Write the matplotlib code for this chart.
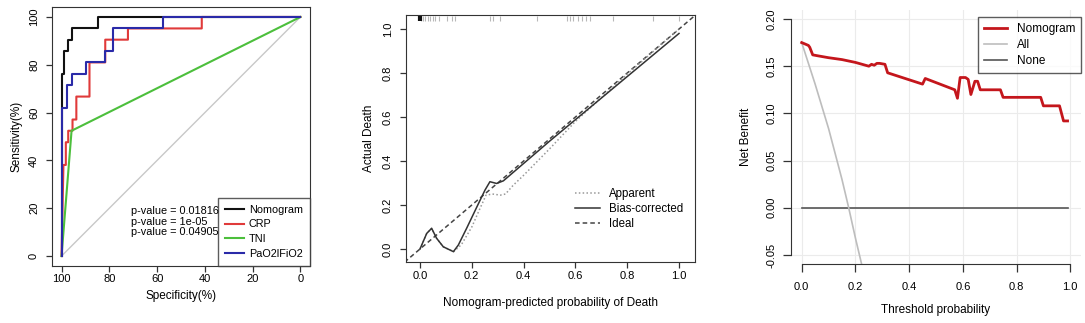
import numpy as np
import matplotlib.pyplot as plt
from matplotlib.lines import Line2D

plt.rcParams['font.family'] = ['Liberation Sans', 'DejaVu Sans']
plt.rcParams['font.size'] = 8

# ---- ROC data (specificity %, sensitivity %) ----
nomo_spec = [100, 100, 98.9, 98.9, 97.2, 97.2, 95.5, 95.5, 84.7, 84.7, 0]
nomo_sens = [0, 76.2, 76.2, 85.7, 85.7, 90.5, 90.5, 95.2, 95.2, 100, 100]
crp_spec = [100, 99.2, 98.2, 98.2, 97.2, 97.2, 95.4, 95.4, 93.8, 93.8, 88.3, 88.3,
            81.7, 81.7, 72.2, 72.2, 41.3, 41.3, 0]
crp_sens = [0, 38.1, 38.1, 47.6, 47.6, 52.4, 52.4, 57.1, 57.1, 66.7, 66.7, 81.0,
            81.0, 90.5, 90.5, 95.2, 95.2, 100, 100]
tni_spec = [100, 95.8, 0]
tni_sens = [0, 52.4, 100]
pao2_spec = [100, 100, 97.6, 97.6, 95.5, 95.5, 89.8, 89.8, 81.6, 81.6, 78.6, 78.6,
             57.6, 57.6, 0]
pao2_sens = [0, 61.9, 61.9, 71.4, 71.4, 76.2, 76.2, 81.0, 81.0, 85.7, 85.7, 95.2,
             95.2, 100, 100]
roc_labels = ['Nomogram', 'CRP', 'TNI', 'PaO2lFiO2']
p_values = ['p-value = 0.01816', 'p-value = 1e-05', 'p-value = 0.04905']

# ---- calibration data ----
bias_x = [0.0, 0.026, 0.045, 0.064, 0.09, 0.129, 0.148, 0.18, 0.219, 0.251, 0.27,
          0.296, 0.322, 0.5, 0.75, 1.0]
bias_y = [0.0, 0.071, 0.094, 0.049, 0.01, -0.012, 0.018, 0.094, 0.19, 0.268, 0.306,
          0.298, 0.31, 0.49, 0.735, 0.98]
app_x = [0.0, 0.026, 0.045, 0.064, 0.09, 0.13, 0.16, 0.2, 0.23, 0.255, 0.28, 0.31,
         0.33, 0.36, 0.4, 0.5, 0.6, 0.8, 1.0]
app_y = [0.0, 0.071, 0.094, 0.049, 0.01, -0.012, 0.02, 0.1, 0.18, 0.245, 0.25, 0.245,
         0.25, 0.29, 0.335, 0.455, 0.58, 0.795, 1.0]
ideal_x = [-0.06, 1.07]
ideal_y = [-0.06, 1.07]
rug_x = [0.005, 0.01, 0.02, 0.03, 0.04, 0.05, 0.058, 0.075, 0.103, 0.122, 0.135,
         0.27, 0.283, 0.309, 0.45, 0.566, 0.579, 0.592, 0.61, 0.625, 0.64, 0.656,
         0.746, 0.9, 1.0]

# ---- decision curve data ----
thr = [0, 0.025, 0.03, 0.041, 0.06, 0.1, 0.15, 0.2, 0.25, 0.26, 0.27, 0.28, 0.29,
       0.31, 0.32, 0.45, 0.46, 0.57, 0.58, 0.59, 0.61, 0.62, 0.63, 0.645, 0.655,
       0.665, 0.74, 0.75, 0.89, 0.90, 0.96, 0.975, 0.99]
nb_nomo = [0.175, 0.172, 0.170, 0.162, 0.161, 0.159, 0.157, 0.154, 0.150, 0.152,
           0.151, 0.153, 0.153, 0.152, 0.143, 0.131, 0.137, 0.125, 0.116, 0.138,
           0.138, 0.136, 0.120, 0.134, 0.134, 0.125, 0.125, 0.117, 0.117, 0.108,
           0.108, 0.092, 0.092]
all_x = [0, 0.05, 0.1, 0.15, 0.175, 0.2, 0.23]
all_y = [0.175, 0.131, 0.084, 0.030, 0.0, -0.032, -0.068]
none_x = [0, 0.99]
none_y = [0, 0]

fig = plt.figure(figsize=(10.85, 3.23), dpi=100)
frame_col = '#333333'

# ===== panel 1: ROC =====
ax1 = fig.add_axes([0.0479, 0.1777, 0.2378, 0.7994])
ax1.plot([100, 0], [0, 100], color='#c8c8c8', lw=1)
ax1.plot(nomo_spec, nomo_sens, color='#111111', lw=1.5, label=roc_labels[0])
ax1.plot(crp_spec, crp_sens, color='#e03a3a', lw=1.5, label=roc_labels[1])
ax1.plot(tni_spec, tni_sens, color='#4cbf3c', lw=1.5, label=roc_labels[2])
ax1.plot(pao2_spec, pao2_sens, color='#2a2aa8', lw=1.5, label=roc_labels[3])
ax1.set_xlim(104, -4)
ax1.set_ylim(-4, 104)
ax1.set_xticks([100, 80, 60, 40, 20, 0])
ax1.set_yticks([0, 20, 40, 60, 80, 100])
leg1 = ax1.legend(loc='lower right', bbox_to_anchor=(1, 0), borderaxespad=0,
                  fancybox=False, edgecolor=frame_col, fontsize=7.8,
                  handlelength=1.7, borderpad=0.65, labelspacing=0.42,
                  handletextpad=0.5)
leg1.get_frame().set_linewidth(1)
for i, t in enumerate(p_values):
    ax1.text(70.8, 18.9 - 4.5 * i, t, ha='left', va='center', fontsize=7.8,
             zorder=10)
ax1.set_xlabel('Specificity(%)', fontsize=8.5, labelpad=4)
ax1.set_ylabel('Sensitivity(%)', fontsize=8.5, labelpad=5)

# ===== panel 2: calibration =====
ax2 = fig.add_axes([0.3742, 0.1889, 0.2664, 0.7647])
ax2.vlines(rug_x, 1.036, 1.059, color='#b8b8b8', lw=0.8)
ax2.vlines([0.0], 1.036, 1.059, color='#111111', lw=3)
ax2.plot(ideal_x, ideal_y, color='#444444', lw=1.1, ls=(0, (3, 2)))
ax2.plot(app_x, app_y, color='#999999', lw=1.1, ls=(0, (1, 1.5)))
ax2.plot(bias_x, bias_y, color='#333333', lw=1.1)
ax2.set_xlim(-0.054, 1.062)
ax2.set_ylim(-0.059, 1.064)
ax2.set_xticks([0, 0.2, 0.4, 0.6, 0.8, 1.0])
ax2.set_yticks([0, 0.2, 0.4, 0.6, 0.8, 1.0])
ax2.xaxis.set_major_formatter(plt.FormatStrFormatter('%.1f'))
ax2.yaxis.set_major_formatter(plt.FormatStrFormatter('%.1f'))
cal_handles = [Line2D([], [], color='#999999', lw=1.1, ls=(0, (1, 1.5))),
               Line2D([], [], color='#333333', lw=1.1),
               Line2D([], [], color='#444444', lw=1.1, ls=(0, (3, 2)))]
ax2.legend(cal_handles, ['Apparent', 'Bias-corrected', 'Ideal'],
           loc='center left', bbox_to_anchor=(0.55, 0.215), frameon=False,
           fontsize=8.3, handlelength=2.1, labelspacing=0.25, handletextpad=0.8)
ax2.set_xlabel('Nomogram-predicted probability of Death', fontsize=8.5, labelpad=12)
ax2.set_ylabel('Actual Death', fontsize=8.5, labelpad=6)

# ===== panel 3: decision curve =====
ax3 = fig.add_axes([0.729, 0.1814, 0.2673, 0.789])
ax3.grid(color='#ebebeb', lw=0.8)
ax3.set_axisbelow(True)
ax3.plot(none_x, none_y, color='#555555', lw=1.2)
ax3.plot(all_x, all_y, color='#bdbdbd', lw=1.2)
ax3.plot(thr, nb_nomo, color='#c4161c', lw=2)
ax3.set_xlim(-0.04, 1.04)
ax3.set_ylim(-0.06, 0.21)
ax3.set_xticks([0, 0.2, 0.4, 0.6, 0.8, 1.0])
ax3.set_yticks([-0.05, 0, 0.05, 0.10, 0.15, 0.20])
ax3.xaxis.set_major_formatter(plt.FormatStrFormatter('%.1f'))
ax3.yaxis.set_major_formatter(plt.FormatStrFormatter('%.2f'))
ax3.spines['top'].set_visible(False)
ax3.spines['right'].set_visible(False)
ax3.spines['left'].set_bounds(-0.05, 0.2)
ax3.spines['bottom'].set_bounds(0, 1)
for s in ('left', 'bottom'):
    ax3.spines[s].set_color(frame_col)
dca_handles = [Line2D([], [], color='#c4161c', lw=2),
               Line2D([], [], color='#bdbdbd', lw=1.2),
               Line2D([], [], color='#555555', lw=1.2)]
leg3 = ax3.legend(dca_handles, ['Nomogram', 'All', 'None'], loc='upper right',
                  bbox_to_anchor=(1.0, 0.971), borderaxespad=0, fancybox=False,
                  edgecolor=frame_col, fontsize=8.5, handlelength=1.9,
                  borderpad=0.5, labelspacing=0.35, handletextpad=0.85)
leg3.get_frame().set_linewidth(1)
ax3.set_xlabel('Threshold probability', fontsize=8.5, labelpad=9)
ax3.set_ylabel('Net Benefit', fontsize=8.5, labelpad=10)

for ax in (ax1, ax2, ax3):
    ax.tick_params(length=4.3, width=0.9, color=frame_col, labelsize=8, pad=2)
    for lab in ax.get_yticklabels():
        lab.set_rotation(90)
        lab.set_va('center')
    if ax is not ax3:
        for s in ax.spines.values():
            s.set_color(frame_col)
ax1.tick_params(axis='y', pad=5)
ax2.tick_params(axis='y', pad=5)
ax3.tick_params(axis='x', length=5.5, pad=7)
ax3.tick_params(axis='y', length=5.5, pad=5)

fig.savefig('out.png', dpi=100)
